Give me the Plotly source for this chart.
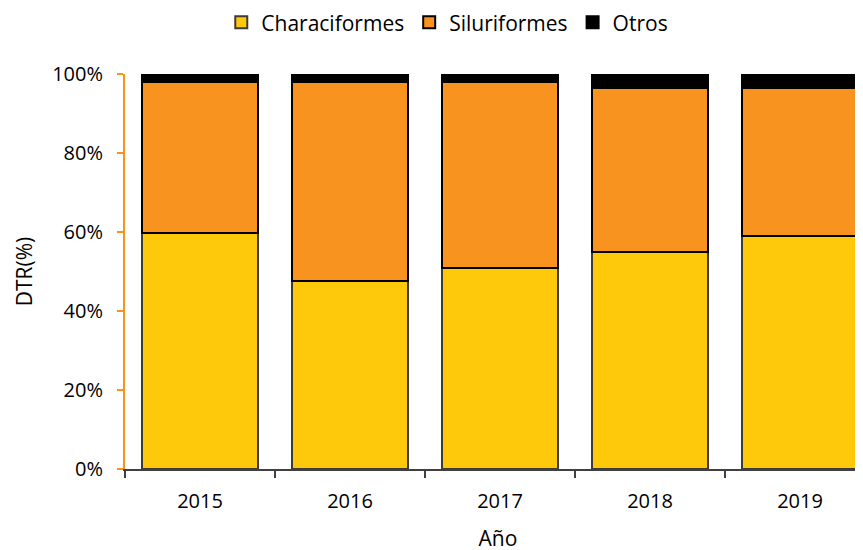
import plotly.graph_objects as go

# data (percent of total)
years = ["2015", "2016", "2017", "2018", "2019"]
characiformes = [59.7, 47.7, 50.8, 55.0, 59.0]
siluriformes = [38.4, 50.4, 47.3, 41.5, 37.5]
otros = [1.9, 1.9, 1.9, 3.5, 3.5]

FONT = "Open Sans"
ORANGE_AXIS = "#F7931E"

series = [
    ("Characiformes", characiformes, "#FFC90B", "#3F3A36"),
    ("Siluriformes", siluriformes, "#F7931E", "#000000"),
    ("Otros", otros, "#000000", "#000000"),
]

fig = go.Figure()
for name, vals, fill, edge in series:
    fig.add_trace(go.Bar(
        x=years,
        y=[v / 100 for v in vals],
        name=name,
        marker=dict(color=fill, line=dict(color=edge, width=2)),
        width=0.775,
    ))

# the page body adds an 8px offset, margins compensate for it
fig.update_layout(
    barmode="stack",
    width=863, height=550,
    margin=dict(l=117, r=0, t=66, b=89, autoexpand=False),
    plot_bgcolor="white",
    paper_bgcolor="white",
    font=dict(family=FONT, size=20, color="#000000"),
    legend=dict(
        orientation="h",
        x=0.432, xanchor="center",
        y=1.13, yanchor="middle",
        font=dict(size=21),
        itemwidth=30,
        traceorder="normal",
        borderwidth=0,
    ),
)

fig.update_xaxes(
    type="category",
    range=[-0.5, 4.473],
    automargin=False,
    showline=True, linecolor="#404040", linewidth=2,
    ticks="outside", tickson="boundaries", ticklen=7, tickcolor="#404040", tickwidth=2,
    ticklabelstandoff=13,
    showgrid=False,
    title=dict(text="Año", standoff=18, font=dict(size=21)),
)
fig.update_yaxes(
    range=[0, 1],
    automargin=False,
    tickformat=".0%",
    dtick=0.2,
    showline=True, linecolor=ORANGE_AXIS, linewidth=2,
    ticks="outside", ticklen=6, tickcolor=ORANGE_AXIS, tickwidth=2,
    ticklabelstandoff=10,
    showgrid=False, zeroline=False,
    title=dict(text="DTR(%)", standoff=14, font=dict(size=21)),
)

fig.write_html("out.html")
